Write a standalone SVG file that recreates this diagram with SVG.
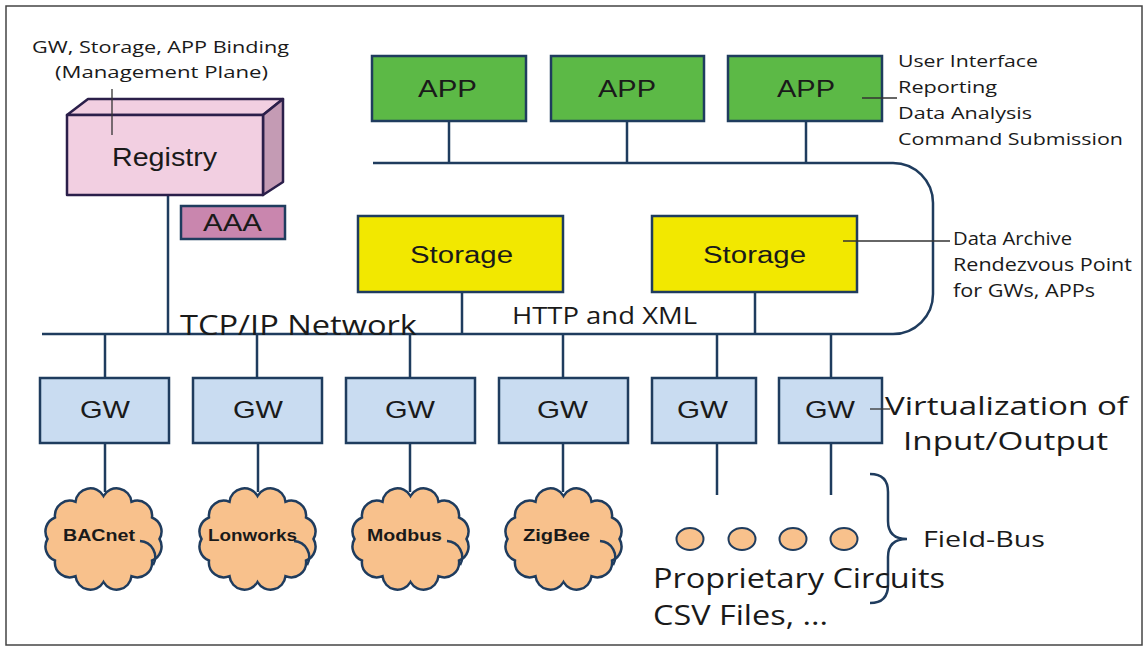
<svg xmlns="http://www.w3.org/2000/svg" xmlns:xlink="http://www.w3.org/1999/xlink" width="1147" height="647" viewBox="0 0 1147 647">
  <defs>
    <style>
      .frame { fill: #ffffff; stroke: #444; stroke-width: 1.5; }
      .conn { fill: none; stroke: #1f3c5e; stroke-width: 2.5; }
      .thin { fill: none; stroke: #333; stroke-width: 1.3; }
      .app { fill: #5cb946; stroke: #1f3c5e; stroke-width: 2.5; }
      .stor { fill: #f2e800; stroke: #1f3c5e; stroke-width: 2.5; }
      .gw { fill: #c9dcf1; stroke: #1f3c5e; stroke-width: 2.5; }
      .cloud { fill: #f8c18c; stroke: #1f3c5e; stroke-width: 2.5; }
      .dot { fill: #f8c18c; stroke: #1f3c5e; stroke-width: 2; }
      .reg { stroke: #2b1f4a; stroke-width: 2.5; stroke-linejoin: round; }
      .box { font-family: "Liberation Sans", Arial, sans-serif; fill: #1a1a1a; }
      .lbl { font-family: "Open Sans", "Liberation Sans", sans-serif; fill: #1a1a1a; }
      .ct { font-family: "Liberation Sans", Arial, sans-serif; font-weight: bold; font-size: 16px; fill: #1a1a1a; }
    </style>
    <path id="cloudShape" d="M63.5,11 A15,15 0 0 1 91.5,16.8 A15,15 0 0 1 112,32.5 A15,15 0 0 1 119.5,54 A15,15 0 0 1 112,75.5 A15,15 0 0 1 91.5,91.2 A15,15 0 0 1 63.5,97 A15,15 0 0 1 35.5,91.2 A15,15 0 0 1 15,75.5 A15,15 0 0 1 7.5,54 A15,15 0 0 1 15,32.5 A15,15 0 0 1 35.5,16.8 A15,15 0 0 1 63.5,11 Z"/>
  </defs>

  <rect class="frame" x="6" y="6" width="1136" height="639"/>

  <g id="connectors">
    <path class="conn" d="M373,163 H893 A40,40 0 0 1 933,203 V294 A40,40 0 0 1 893,334 H42"/>
    <line class="conn" x1="449" y1="121" x2="449" y2="163"/>
    <line class="conn" x1="627" y1="121" x2="627" y2="163"/>
    <line class="conn" x1="806" y1="121" x2="806" y2="163"/>
    <line class="conn" x1="462" y1="292" x2="462" y2="334"/>
    <line class="conn" x1="755" y1="292" x2="755" y2="334"/>
    <line class="conn" x1="168" y1="195" x2="168" y2="334"/>
    <line class="conn" x1="105" y1="334" x2="105" y2="378"/>
    <line class="conn" x1="257" y1="334" x2="257" y2="378"/>
    <line class="conn" x1="410" y1="334" x2="410" y2="378"/>
    <line class="conn" x1="563" y1="334" x2="563" y2="378"/>
    <line class="conn" x1="717" y1="334" x2="717" y2="378"/>
    <line class="conn" x1="831" y1="334" x2="831" y2="378"/>
    <line class="conn" x1="105" y1="443" x2="105" y2="492"/>
    <line class="conn" x1="258" y1="443" x2="258" y2="492"/>
    <line class="conn" x1="410" y1="443" x2="410" y2="492"/>
    <line class="conn" x1="563" y1="443" x2="563" y2="492"/>
    <line class="conn" x1="717" y1="443" x2="717" y2="495"/>
    <line class="conn" x1="831" y1="443" x2="831" y2="495"/>
  </g>

  <g id="registry">
    <polygon class="reg" fill="#f2cfe1" points="67,115 88,99 283,99 263,115"/>
    <polygon class="reg" fill="#c49bb4" points="263,115 283,99 283,182 263,195"/>
    <rect class="reg" fill="#f2cfe1" x="67" y="115" width="196" height="80"/>
    <text class="box" x="112" y="166" font-size="25" textLength="105" lengthAdjust="spacingAndGlyphs">Registry</text>
  </g>

  <g id="label-binding">
    <text class="lbl" x="32" y="53" font-size="17" textLength="257" lengthAdjust="spacingAndGlyphs">GW, Storage, APP Binding</text>
    <text class="lbl" x="55" y="78" font-size="17" textLength="213" lengthAdjust="spacingAndGlyphs">(Management Plane)</text>
    <line class="thin" x1="112" y1="89" x2="112" y2="135"/>
  </g>

  <g id="aaa">
    <rect x="181" y="206" width="104" height="33" fill="#c986ae" stroke="#1f3c5e" stroke-width="2.5"/>
    <text class="box" x="203" y="231" font-size="23" textLength="59" lengthAdjust="spacingAndGlyphs">AAA</text>
  </g>

  <g id="app1">
    <rect class="app" x="372" y="56" width="154" height="65"/>
    <text class="box" x="418" y="97" font-size="23" textLength="59" lengthAdjust="spacingAndGlyphs">APP</text>
  </g>
  <g id="app2">
    <rect class="app" x="551" y="56" width="153" height="65"/>
    <text class="box" x="598" y="97" font-size="23" textLength="58" lengthAdjust="spacingAndGlyphs">APP</text>
  </g>
  <g id="app3">
    <rect class="app" x="728" y="56" width="154" height="65"/>
    <text class="box" x="777" y="97" font-size="23" textLength="58" lengthAdjust="spacingAndGlyphs">APP</text>
  </g>

  <g id="label-app">
    <line class="thin" x1="862" y1="98" x2="897" y2="98"/>
    <text class="lbl" x="898" y="67" font-size="17" textLength="140" lengthAdjust="spacingAndGlyphs">User Interface</text>
    <text class="lbl" x="898" y="93" font-size="17" textLength="99" lengthAdjust="spacingAndGlyphs">Reporting</text>
    <text class="lbl" x="898" y="119" font-size="17" textLength="134" lengthAdjust="spacingAndGlyphs">Data Analysis</text>
    <text class="lbl" x="898" y="145" font-size="17" textLength="225" lengthAdjust="spacingAndGlyphs">Command Submission</text>
  </g>

  <g id="storage1">
    <rect class="stor" x="358" y="216" width="205" height="76"/>
    <text class="box" x="410" y="263" font-size="23" textLength="103" lengthAdjust="spacingAndGlyphs">Storage</text>
  </g>
  <g id="storage2">
    <rect class="stor" x="652" y="216" width="205" height="76"/>
    <text class="box" x="703" y="263" font-size="23" textLength="103" lengthAdjust="spacingAndGlyphs">Storage</text>
  </g>

  <g id="label-storage">
    <line class="thin" x1="843" y1="241" x2="950" y2="241"/>
    <text class="lbl" x="953" y="245" font-size="18" textLength="119" lengthAdjust="spacingAndGlyphs">Data Archive</text>
    <text class="lbl" x="953" y="271" font-size="18" textLength="179" lengthAdjust="spacingAndGlyphs">Rendezvous Point</text>
    <text class="lbl" x="953" y="297" font-size="18" textLength="142" lengthAdjust="spacingAndGlyphs">for GWs, APPs</text>
  </g>

  <g id="label-network">
    <text class="lbl" x="180" y="335" font-size="28" textLength="237" lengthAdjust="spacingAndGlyphs">TCP/IP Network</text>
    <text class="lbl" x="512" y="324" font-size="23" textLength="185" lengthAdjust="spacingAndGlyphs">HTTP and XML</text>
  </g>

  <g id="gw1">
    <rect class="gw" x="40" y="378" width="129" height="65"/>
    <text class="box" x="80" y="418" font-size="24" textLength="50" lengthAdjust="spacingAndGlyphs">GW</text>
  </g>
  <g id="gw2">
    <rect class="gw" x="193" y="378" width="129" height="65"/>
    <text class="box" x="233" y="418" font-size="24" textLength="50" lengthAdjust="spacingAndGlyphs">GW</text>
  </g>
  <g id="gw3">
    <rect class="gw" x="346" y="378" width="129" height="65"/>
    <text class="box" x="385" y="418" font-size="24" textLength="50" lengthAdjust="spacingAndGlyphs">GW</text>
  </g>
  <g id="gw4">
    <rect class="gw" x="499" y="378" width="129" height="65"/>
    <text class="box" x="537" y="418" font-size="24" textLength="51" lengthAdjust="spacingAndGlyphs">GW</text>
  </g>
  <g id="gw5">
    <rect class="gw" x="652" y="378" width="104" height="65"/>
    <text class="box" x="677" y="418" font-size="24" textLength="51" lengthAdjust="spacingAndGlyphs">GW</text>
  </g>
  <g id="gw6">
    <rect class="gw" x="779" y="378" width="103" height="65"/>
    <text class="box" x="805" y="418" font-size="24" textLength="50" lengthAdjust="spacingAndGlyphs">GW</text>
  </g>

  <g id="label-virtualization">
    <line class="thin" x1="870" y1="409" x2="890" y2="409"/>
    <text class="lbl" x="885" y="415" font-size="26" textLength="243" lengthAdjust="spacingAndGlyphs">Virtualization of</text>
    <text class="lbl" x="903" y="450" font-size="26" textLength="205" lengthAdjust="spacingAndGlyphs">Input/Output</text>
  </g>

  <g id="cloud-bacnet" transform="translate(40,485)">
    <use xlink:href="#cloudShape" class="cloud"/>
    <path class="conn" d="M100,56 A16,16 0 0 1 113,80"/>
    <text class="ct" x="23" y="56" textLength="72" lengthAdjust="spacingAndGlyphs">BACnet</text>
  </g>
  <g id="cloud-lonworks" transform="translate(194,485)">
    <use xlink:href="#cloudShape" class="cloud"/>
    <path class="conn" d="M100,56 A16,16 0 0 1 113,80"/>
    <text class="ct" x="14" y="56" textLength="89" lengthAdjust="spacingAndGlyphs">Lonworks</text>
  </g>
  <g id="cloud-modbus" transform="translate(347,485)">
    <use xlink:href="#cloudShape" class="cloud"/>
    <path class="conn" d="M100,56 A16,16 0 0 1 113,80"/>
    <text class="ct" x="20" y="56" textLength="75" lengthAdjust="spacingAndGlyphs">Modbus</text>
  </g>
  <g id="cloud-zigbee" transform="translate(500,485)">
    <use xlink:href="#cloudShape" class="cloud"/>
    <path class="conn" d="M100,56 A16,16 0 0 1 113,80"/>
    <text class="ct" x="23" y="56" textLength="67" lengthAdjust="spacingAndGlyphs">ZigBee</text>
  </g>

  <g id="fieldbus">
    <ellipse class="dot" cx="690" cy="539" rx="13.5" ry="11"/>
    <ellipse class="dot" cx="742" cy="539" rx="13.5" ry="11"/>
    <ellipse class="dot" cx="793" cy="539" rx="13.5" ry="11"/>
    <ellipse class="dot" cx="844" cy="539" rx="13.5" ry="11"/>
    <path class="conn" d="M870,474 Q888,474 888,492 V521 Q888,539 907,539 Q888,539 888,557 V585 Q888,603 870,603"/>
    <text class="lbl" x="923" y="547" font-size="21" textLength="122" lengthAdjust="spacingAndGlyphs">Field-Bus</text>
    <text class="lbl" x="653" y="588" font-size="28" textLength="292" lengthAdjust="spacingAndGlyphs">Proprietary Circuits</text>
    <text class="lbl" x="653" y="625" font-size="28" textLength="175" lengthAdjust="spacingAndGlyphs">CSV Files, ...</text>
  </g>
</svg>
